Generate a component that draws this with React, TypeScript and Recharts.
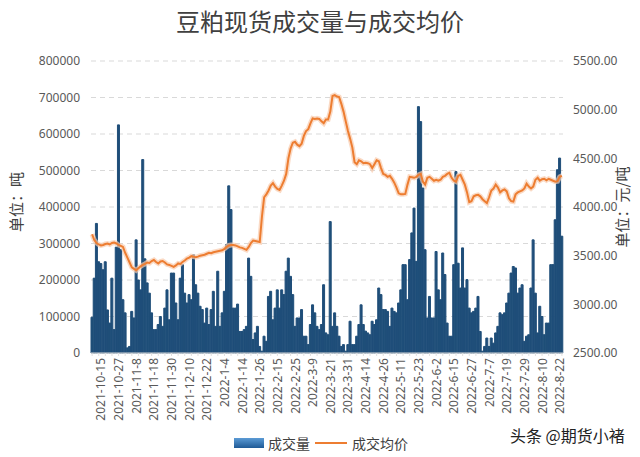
import React from 'react';
import { ComposedChart, Bar, Line, XAxis, YAxis, CartesianGrid } from 'recharts';

// date labels shown on the x axis (every 8th trading day, first one at index 4)
const xLabels = [
  '2021-10-15', '2021-10-27', '2021-11-8', '2021-11-18', '2021-11-30', '2021-12-10',
  '2021-12-22', '2022-1-4', '2022-1-14', '2022-1-26', '2022-2-15', '2022-2-25',
  '2022-3-9', '2022-3-21', '2022-3-31', '2022-4-14', '2022-4-26', '2022-5-11',
  '2022-5-23', '2022-6-2', '2022-6-15', '2022-6-27', '2022-7-7', '2022-7-19',
  '2022-7-29', '2022-8-10', '2022-8-22',
];
const LABEL_START = 4;
const LABEL_STEP = 8;

// 成交量 (吨), one value per trading day
const volume = [
  98000, 205000, 355000, 250000, 245000, 228000, 250000, 118000, 82000, 205000,
  64000, 290000, 625000, 283000, 146000, 110000, 14000, 18000, 114000, 96000,
  310000, 200000, 173000, 530000, 258000, 192000, 164000, 110000, 64000, 64000,
  78000, 100000, 73000, 123000, 173000, 91000, 219000, 219000, 137000, 91000,
  205000, 242000, 164000, 137000, 160000, 146000, 269000, 187000, 164000, 128000,
  119000, 82000, 123000, 78000, 119000, 169000, 73000, 224000, 73000, 110000,
  169000, 297000, 458000, 393000, 123000, 123000, 134000, 59000, 59000, 64000,
  73000, 260000, 210000, 37000, 55000, 73000, 18000, 5000, 46000, 32000,
  155000, 169000, 91000, 123000, 173000, 123000, 173000, 160000, 224000, 260000,
  210000, 160000, 73000, 96000, 96000, 119000, 46000, 46000, 23000, 78000,
  132000, 110000, 73000, 64000, 78000, 187000, 55000, 50000, 360000, 73000,
  110000, 73000, 46000, 18000, 23000, 5000, 23000, 87000, 23000, 23000,
  46000, 78000, 132000, 78000, 60000, 55000, 50000, 87000, 78000, 91000,
  178000, 160000, 119000, 119000, 114000, 73000, 123000, 114000, 110000, 137000,
  173000, 242000, 242000, 146000, 256000, 329000, 397000, 251000, 675000, 634000,
  452000, 283000, 96000, 155000, 96000, 96000, 278000, 173000, 146000, 274000,
  215000, 82000, 46000, 46000, 242000, 497000, 246000, 178000, 288000, 178000,
  201000, 123000, 110000, 114000, 123000, 155000, 59000, 5000, 18000, 41000,
  18000, 41000, 27000, 55000, 73000, 110000, 105000, 110000, 137000, 164000,
  219000, 237000, 233000, 164000, 178000, 187000, 32000, 46000, 50000, 178000,
  310000, 164000, 55000, 128000, 100000, 50000, 82000, 82000, 242000, 242000,
  365000, 502000, 534000, 320000,
];

// 成交均价 (元/吨)
const price = [
  3720, 3660, 3630, 3615, 3605, 3610, 3620, 3625, 3615, 3630,
  3635, 3625, 3610, 3600, 3590, 3530, 3480, 3430, 3380, 3365,
  3350, 3370, 3390, 3405, 3415, 3430, 3425, 3445, 3455, 3435,
  3420, 3440, 3445, 3430, 3410, 3405, 3395, 3385, 3400, 3420,
  3415, 3435, 3450, 3470, 3480, 3495, 3490, 3485, 3490, 3500,
  3505, 3510, 3520, 3530, 3525, 3535, 3540, 3545, 3550, 3555,
  3570, 3590, 3605, 3610, 3610, 3605, 3595, 3585, 3580, 3570,
  3560, 3590, 3630, 3655, 3650, 3645, 3640, 3900, 4100, 4130,
  4170, 4220, 4245, 4210, 4185, 4175, 4220, 4270, 4340, 4500,
  4600, 4660, 4670, 4640, 4625, 4650, 4730, 4780, 4800, 4860,
  4910, 4905, 4910, 4905, 4880, 4860, 4900, 4900, 4980, 5140,
  5150, 5135, 5130, 5060, 4980, 4880, 4780, 4700, 4610, 4460,
  4440, 4480, 4470, 4450, 4455, 4450, 4440, 4400, 4440, 4480,
  4470, 4400, 4340, 4330, 4310, 4320, 4290, 4250, 4200, 4140,
  4130, 4130, 4135, 4230, 4310, 4305, 4300, 4310, 4330, 4340,
  4260, 4230, 4300, 4310, 4290, 4270, 4280, 4270, 4280, 4310,
  4320, 4340, 4350, 4300, 4270, 4260, 4320, 4330, 4280, 4230,
  4150, 4050, 4060, 4110, 4120, 4125, 4110, 4080, 4060, 4040,
  4100, 4170, 4190, 4230, 4200, 4150, 4170, 4180, 4160, 4090,
  4060, 4055, 4130, 4150, 4160, 4170, 4190, 4240, 4210, 4190,
  4210, 4280, 4300, 4270, 4285, 4290, 4275, 4290, 4280, 4270,
  4260, 4265, 4310, 4320,
];

const leftTicks = [0, 100000, 200000, 300000, 400000, 500000, 600000, 700000, 800000];
const rightTicks = [2500, 3000, 3500, 4000, 4500, 5000, 5500];

const data = volume.map((v, i) => ({ i, volume: v, price: price[i] }));

const NUM_FONT = "'Noto Sans', 'Noto Sans CJK SC', sans-serif";
const CJK_FONT = "'Noto Sans CJK SC', sans-serif";

const XTick = (props: any) => {
  const { x, y, payload } = props;
  const idx = payload.value as number;
  const k = (idx - LABEL_START) / LABEL_STEP;
  const label = Number.isInteger(k) && k >= 0 && k < xLabels.length ? xLabels[k] : null;
  return (
    <g>
      {idx % 3 === 0 && <line x1={x} x2={x} y1={y - 4} y2={y - 1} stroke="#e0e0e0" />}
      {label && (
        <text
          x={x}
          y={y + 1}
          transform={`rotate(-90, ${x}, ${y + 1})`}
          textAnchor="end"
          dominantBaseline="central"
          fill="#595959"
          fontSize={12}
          fontFamily={NUM_FONT}
        >
          {label}
        </text>
      )}
    </g>
  );
};

const App: React.FC = () => {
  return (
    <div
      style={{
        position: 'absolute',
        left: 0,
        top: 0,
        width: 640,
        height: 457,
        background: '#fff',
        overflow: 'hidden',
        fontFamily: CJK_FONT,
      }}
    >
      <div
        style={{
          position: 'absolute',
          left: 0,
          width: 640,
          top: 5,
          textAlign: 'center',
          fontSize: 24,
          color: '#404040',
          lineHeight: '32px',
        }}
      >
        豆粕现货成交量与成交均价
      </div>

      <ComposedChart
        width={640}
        height={457}
        data={data}
        margin={{ top: 61, right: 0, bottom: 0, left: 0 }}
        barCategoryGap={0}
        barGap={0}
      >
        <CartesianGrid yAxisId="left" vertical={false} stroke="#d9d9d9" strokeDasharray="5 4" />
        <XAxis
          dataKey="i"
          type="category"
          interval={0}
          height={104}
          tick={<XTick />}
          tickLine={false}
          tickSize={4}
          tickMargin={0}
          axisLine={{ stroke: '#d9d9d9' }}
        />
        <YAxis
          yAxisId="left"
          width={91}
          domain={[0, 800000]}
          ticks={leftTicks}
          axisLine={false}
          tickLine={false}
          tickMargin={5}
          tick={{ fill: '#595959', fontSize: 12, fontFamily: NUM_FONT }}
        />
        <YAxis
          yAxisId="right"
          orientation="right"
          width={77}
          domain={[2500, 5500]}
          ticks={rightTicks}
          axisLine={false}
          tickLine={false}
          tickMargin={4}
          tickFormatter={(v: number) => v.toFixed(2)}
          tick={{ fill: '#595959', fontSize: 12, fontFamily: NUM_FONT, textAnchor: 'start' }}
        />
        <Bar
          yAxisId="left"
          dataKey="volume"
          fill="#1f4e79"
          stroke="#1f4e79"
          strokeWidth={1}
          isAnimationActive={false}
        />
        <Line
          yAxisId="right"
          dataKey="price"
          type="linear"
          stroke="#f8cbad"
          strokeWidth={5}
          strokeOpacity={0.7}
          dot={false}
          activeDot={false}
          isAnimationActive={false}
        />
        <Line
          yAxisId="right"
          dataKey="price"
          type="linear"
          stroke="#ed7d31"
          strokeWidth={2}
          dot={false}
          activeDot={false}
          isAnimationActive={false}
        />
      </ComposedChart>

      {/* axis titles */}
      <div
        style={{
          position: 'absolute',
          left: 15,
          top: 202,
          transform: 'translate(-50%, -50%) rotate(-90deg)',
          whiteSpace: 'nowrap',
          fontSize: 15,
          color: '#404040',
        }}
      >
        单位：吨
      </div>
      <div
        style={{
          position: 'absolute',
          left: 621,
          top: 207,
          transform: 'translate(-50%, -50%) rotate(-90deg)',
          whiteSpace: 'nowrap',
          fontSize: 15,
          color: '#404040',
        }}
      >
        单位：元/吨
      </div>

      {/* legend */}
      <div style={{ position: 'absolute', left: 234, top: 438, width: 30, height: 10, background: 'linear-gradient(#5b9bd5, #1f5a96)' }} />
      <div style={{ position: 'absolute', left: 268, top: 433, fontSize: 14, lineHeight: '20px', color: '#404040' }}>成交量</div>
      <div style={{ position: 'absolute', left: 315, top: 442, width: 32, height: 2, background: '#ed7d31' }} />
      <div style={{ position: 'absolute', left: 352, top: 433, fontSize: 14, lineHeight: '20px', color: '#404040' }}>成交均价</div>

      <div style={{ position: 'absolute', left: 510, top: 424, fontSize: 16, lineHeight: '22px', color: '#222' }}>
        头条 @期货小褚
      </div>
    </div>
  );
};

export default App;
